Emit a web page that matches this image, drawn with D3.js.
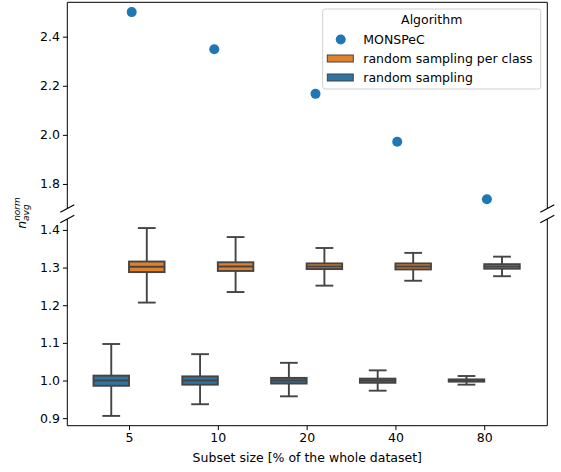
<!DOCTYPE html>
<html>
<head>
<meta charset="utf-8">
<script src="https://cdn.jsdelivr.net/npm/d3@7"></script>
<style>
  html, body { margin: 0; padding: 0; background: #fff; }
  svg { display: block; font-family: "DejaVu Sans", sans-serif; }
</style>
</head>
<body>
<svg id="chart" width="561" height="472"></svg>
<script>
// ---- data ----
const categories = ["5", "10", "20", "40", "80"];
// MONSPeC values (scatter) and small strip jitter (category units)
const monspecValues = [2.50, 2.349, 2.167, 1.972, 1.738];
const monspecJitter = [0.03, -0.04, 0.10, 0.02, 0.03];
// box stats: [whiskerLow, q1, median, q3, whiskerHigh]
const perClassStats = [
  [1.207, 1.288, 1.302, 1.316, 1.405],
  [1.235, 1.291, 1.303, 1.314, 1.381],
  [1.252, 1.296, 1.303, 1.311, 1.352],
  [1.265, 1.295, 1.303, 1.311, 1.339],
  [1.277, 1.297, 1.303, 1.309, 1.329]
];
const randomStats = [
  [0.906, 0.986, 1.000, 1.013, 1.097],
  [0.937, 0.989, 1.000, 1.011, 1.070],
  [0.958, 0.992, 1.000, 1.007, 1.047],
  [0.973, 0.994, 1.000, 1.005, 1.027],
  [0.989, 0.997, 1.000, 1.003, 1.012]
];
const topTicks = [1.8, 2.0, 2.2, 2.4];
const bottomTicks = [0.9, 1.0, 1.1, 1.2, 1.3, 1.4];
const seriesNames = ["MONSPeC", "random sampling per class", "random sampling"];

// ---- layout ----
const svg = d3.select("#chart");
const left = 67.3, right = 547.3;
const topPanel = { y0: 2.3, y1: 208.5 };
const botPanel = { y0: 219, y1: 425.7 };
const fontSize = 12.5;
const edge = "#444444";
const colDot = "#1f77b4", colOrange = "#e1812c", colBlue = "#3274a1";

const x = d3.scaleLinear().domain([-0.695, 4.71]).range([left, right]);
const yTop = d3.scaleLinear().domain([1.70, 2.54]).range([topPanel.y1, topPanel.y0]);
const yBot = d3.scaleLinear().domain([0.880, 1.429]).range([botPanel.y1, botPanel.y0]);

const spacing = x(1) - x(0);
const boxW = spacing * 0.4;

// ---- axes ----
const gTopAxis = svg.append("g").attr("transform", `translate(${left},0)`)
  .call(d3.axisLeft(yTop).tickValues(topTicks).tickFormat(d3.format(".1f")).tickSize(4.4).tickPadding(3));
const gBotAxis = svg.append("g").attr("transform", `translate(${left},0)`)
  .call(d3.axisLeft(yBot).tickValues(bottomTicks).tickFormat(d3.format(".1f")).tickSize(4.4).tickPadding(3));
const gX = svg.append("g").attr("transform", `translate(0,${botPanel.y1})`)
  .call(d3.axisBottom(x).tickValues(d3.range(categories.length)).tickFormat(i => categories[i]).tickSize(4.4).tickPadding(3));
[gTopAxis, gBotAxis, gX].forEach(g => {
  g.select(".domain").remove();
  g.selectAll("text").attr("font-size", fontSize).attr("fill", "#000").attr("font-family", "DejaVu Sans");
  g.selectAll("line").attr("stroke", "#000").attr("stroke-width", 1);
});

// spines
const spine = { stroke: "#000", "stroke-width": 1, fill: "none" };
function line(x1, y1, x2, y2) {
  const l = svg.append("line").attr("x1", x1).attr("y1", y1).attr("x2", x2).attr("y2", y2);
  Object.entries(spine).forEach(([k, v]) => l.attr(k, v));
  return l;
}
// top panel: top, left, right
line(left, topPanel.y0, right, topPanel.y0);
line(left, topPanel.y0, left, topPanel.y1);
line(right, topPanel.y0, right, topPanel.y1);
// bottom panel: bottom, left, right
line(left, botPanel.y1, right, botPanel.y1);
line(left, botPanel.y0, left, botPanel.y1);
line(right, botPanel.y0, right, botPanel.y1);
// break marks
[left, right].forEach(px => {
  [topPanel.y1, botPanel.y0].forEach(py => {
    line(px - 7, py + 3.7, px + 7, py - 3.7).attr("stroke-width", 1.2);
  });
});

// ---- boxplots ----
function drawBoxes(stats, offset, color) {
  stats.forEach((s, i) => {
    const cx = x(i) + offset;
    const g = svg.append("g");
    // whiskers
    g.append("line").attr("x1", cx).attr("x2", cx).attr("y1", yBot(s[0])).attr("y2", yBot(s[1]))
      .attr("stroke", edge).attr("stroke-width", 1.9);
    g.append("line").attr("x1", cx).attr("x2", cx).attr("y1", yBot(s[3])).attr("y2", yBot(s[4]))
      .attr("stroke", edge).attr("stroke-width", 1.9);
    // caps
    [s[0], s[4]].forEach(v => {
      g.append("line").attr("x1", cx - boxW / 4).attr("x2", cx + boxW / 4).attr("y1", yBot(v)).attr("y2", yBot(v))
        .attr("stroke", edge).attr("stroke-width", 1.9);
    });
    // box
    g.append("rect").attr("x", cx - boxW / 2).attr("width", boxW)
      .attr("y", yBot(s[3])).attr("height", yBot(s[1]) - yBot(s[3]))
      .attr("fill", color).attr("stroke", edge).attr("stroke-width", 1.9);
    // median
    g.append("line").attr("x1", cx - boxW / 2).attr("x2", cx + boxW / 2).attr("y1", yBot(s[2])).attr("y2", yBot(s[2]))
      .attr("stroke", edge).attr("stroke-width", 1.9);
  });
}
drawBoxes(randomStats, -boxW / 2, colBlue);
drawBoxes(perClassStats, boxW / 2, colOrange);

// ---- MONSPeC scatter ----
svg.append("g").selectAll("circle").data(monspecValues).join("circle")
  .attr("cx", (d, i) => x(i + monspecJitter[i]))
  .attr("cy", d => yTop(d))
  .attr("r", 5)
  .attr("fill", colDot);

// ---- legend ----
const lg = svg.append("g").attr("transform", "translate(322.7,9)");
lg.append("rect").attr("x", 0).attr("y", 0).attr("width", 218).attr("height", 80).attr("rx", 2.5)
  .attr("fill", "#fff").attr("fill-opacity", 0.8).attr("stroke", "#d0d0d0").attr("stroke-width", 1);
lg.append("text").attr("x", 109).attr("y", 11).attr("dy", "0.35em").attr("text-anchor", "middle")
  .attr("font-size", fontSize).text("Algorithm");
const rowY = [30.5, 49.5, 68.5];
lg.append("circle").attr("cx", 18).attr("cy", rowY[0]).attr("r", 5).attr("fill", colDot);
lg.append("rect").attr("x", 4.6).attr("y", rowY[1] - 3.5).attr("width", 26).attr("height", 7)
  .attr("fill", colOrange).attr("stroke", edge).attr("stroke-width", 1);
lg.append("rect").attr("x", 4.6).attr("y", rowY[2] - 3.5).attr("width", 26).attr("height", 7)
  .attr("fill", colBlue).attr("stroke", edge).attr("stroke-width", 1);
seriesNames.forEach((n, i) => {
  lg.append("text").attr("x", 40.6).attr("y", rowY[i]).attr("dy", "0.35em")
    .attr("font-size", fontSize).text(n);
});

// ---- axis labels ----
svg.append("text").attr("x", (left + right) / 2).attr("y", 458).attr("dy", "0.35em")
  .attr("text-anchor", "middle").attr("font-size", fontSize).text("Subset size [% of the whole dataset]");

const yl = svg.append("text").attr("transform", "translate(26,213) rotate(-90)")
  .attr("text-anchor", "middle").attr("font-size", fontSize).attr("font-family", "DejaVu Sans").attr("font-style", "italic");
yl.append("tspan").text("n");
yl.append("tspan").attr("font-size", 9).attr("dy", 3).text("avg");
yl.append("tspan").attr("font-size", 9).attr("dx", -16.5).attr("dy", -9).text("norm");
</script>
</body>
</html>
